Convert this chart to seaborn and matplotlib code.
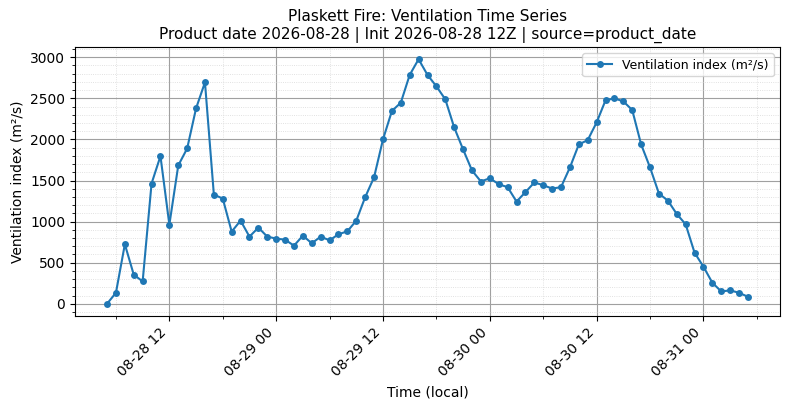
import matplotlib
matplotlib.use("Agg")
import matplotlib.pyplot as plt
import matplotlib.dates as mdates
from matplotlib.ticker import AutoMinorLocator
import numpy as np
import pandas as pd
import seaborn as sns

start_time = "2026-08-28 05:00"
n_hours = 73
ventilation = [
    0, 134, 724, 354, 272, 1463, 1797, 963, 1683, 1890, 2378, 2695,
    1329, 1280, 878, 1012, 817, 927, 817, 793, 780, 707, 829, 736,
    817, 772, 846, 882, 1012, 1297, 1541, 2000, 2346, 2447, 2785, 2976,
    2785, 2646, 2488, 2146, 1878, 1622, 1488, 1528, 1455, 1419, 1244, 1358,
    1476, 1443, 1402, 1419, 1659, 1939, 1992, 2207, 2476, 2500, 2463, 2358,
    1939, 1659, 1341, 1256, 1093, 967, 622, 451, 256, 150, 163, 134, 85,
]
series_label = "Ventilation index (m²/s)"
title = "Plaskett Fire: Ventilation Time Series\nProduct date 2026-08-28 | Init 2026-08-28 12Z | source=product_date"

times = pd.date_range(start_time, periods=n_hours, freq="h")
df = pd.DataFrame({"time": times, "vent": ventilation})

plt.rcParams['font.family'] = ['DejaVu Sans']
fig, ax = plt.subplots(figsize=(7.9, 4.09), dpi=100)
sns.lineplot(data=df, x="time", y="vent", marker="o", markersize=5,
             markeredgewidth=0, color="#1f77b4", linewidth=1.5,
             label=series_label, ax=ax)

ax.xaxis.set_major_locator(mdates.HourLocator(byhour=[0, 12]))
ax.xaxis.set_minor_locator(mdates.HourLocator(byhour=[6, 18]))
ax.xaxis.set_major_formatter(mdates.DateFormatter("%m-%d %H"))
ax.yaxis.set_minor_locator(AutoMinorLocator(5))
ax.grid(True, which="major", color="#a0a0a0", linewidth=0.8)
ax.grid(True, which="minor", color="#d8d8d8", linestyle=":", linewidth=0.6)
ax.set_xlabel("Time (local)")
ax.set_ylabel("Ventilation index (m²/s)")
ax.set_title(title, fontsize=11)
plt.setp(ax.get_xticklabels(), rotation=45, ha="right")
ax.legend(loc="upper right", fontsize=9)
fig.subplots_adjust(left=75/790, right=780/790, top=1-47/409, bottom=1-316/409)
fig.savefig("out.png", dpi=100)
